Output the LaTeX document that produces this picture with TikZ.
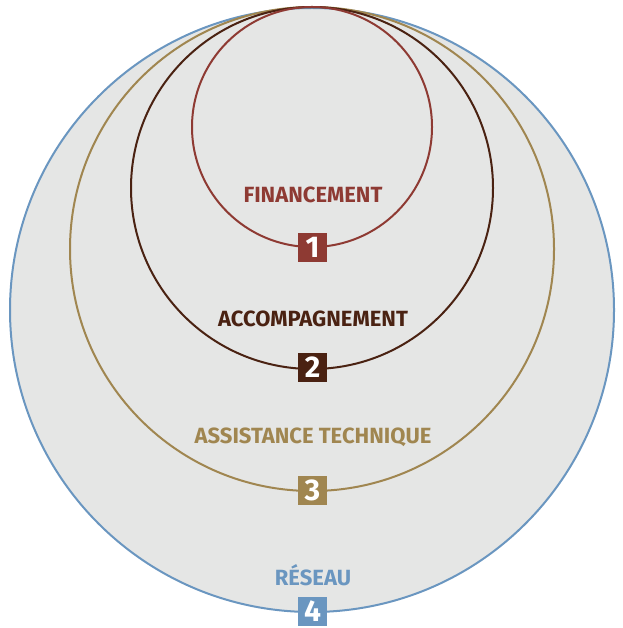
\documentclass[tikz,border=0pt]{standalone}
\usepackage{fontspec}
\setmainfont{Fira Sans}
\definecolor{cred}{HTML}{8E3A33}
\definecolor{cbrown}{HTML}{4A2212}
\definecolor{ctan}{HTML}{A08650}
\definecolor{cblue}{HTML}{6A96C0}
\definecolor{cbg}{HTML}{E5E6E5}
\tikzset{
  ring/.style={line width=2pt},
  lbl/.style={font=\fontsize{22}{24}\selectfont\bfseries, inner sep=0pt, anchor=base},
  num/.style={fill=#1, text=white, minimum size=29pt, inner sep=0pt, font=\fontsize{30}{31}\selectfont\bfseries}
}
\begin{document}
\begin{tikzpicture}[x=1pt,y=-1pt]
\useasboundingbox (0,0) rectangle (622,628);
\fill[cbg] (312,310) circle (302);
\draw[ring, cblue] (312,310) circle (302);
\draw[ring, ctan] (312,249) circle (242);
\draw[ring, cbrown] (312,188) circle (181);
\draw[ring, cred] (312,127) circle (120);
\node[lbl, text=cred] (l1) at (313,203) {FINANCEMENT};
\node[lbl, text=cbrown] (l2) at (313,326.5) {ACCOMPAGNEMENT};
\node[lbl, text=ctan] (l3) at (313,443) {ASSISTANCE TECHNIQUE};
\node[lbl, text=cblue] (l4) at (313,585) {RÉSEAU};
\node[num=cred] (n1) at (312.5,247.5) {1};
\node[num=cbrown] (n2) at (312.5,367.5) {2};
\node[num=ctan] (n3) at (312.5,490) {3};
\node[num=cblue] (n4) at (312.5,611) {4};
\end{tikzpicture}
\end{document}
